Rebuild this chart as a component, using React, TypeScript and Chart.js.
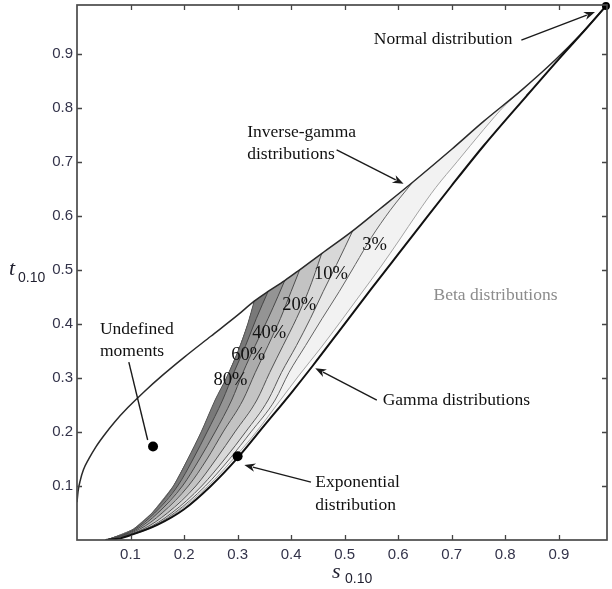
import React, { useEffect, useRef } from "react";
import { Chart, registerables } from "chart.js";

Chart.register(...registerables);

type Pt = { x: number; y: number };
const toPts = (a: number[][]): Pt[] => a.map(([x, y]) => ({ x, y }));

const X_TICKS = [0.1, 0.2, 0.3, 0.4, 0.5, 0.6, 0.7, 0.8, 0.9];
const Y_TICKS = [0.1, 0.2, 0.3, 0.4, 0.5, 0.6, 0.7, 0.8, 0.9];
const AXIS_MAX = 0.99;

// Inverse-gamma boundary (upper curve)
const INVERSE_GAMMA = toPts([
  [0, 0.07], [0.002, 0.09], [0.006, 0.11], [0.012, 0.13], [0.022, 0.15], [0.035, 0.172],
  [0.05, 0.193], [0.07, 0.218], [0.095, 0.245], [0.125, 0.274], [0.16, 0.305], [0.2, 0.338],
  [0.25, 0.377], [0.3, 0.416], [0.331, 0.442], [0.357, 0.46], [0.388, 0.48], [0.416, 0.5],
  [0.457, 0.53], [0.515, 0.572], [0.565, 0.612], [0.627, 0.662], [0.7, 0.723], [0.76, 0.775],
  [0.83, 0.832], [0.894, 0.889], [0.94, 0.935], [0.988, 0.988],
]);

// Gamma boundary (lower curve)
const GAMMA = toPts([
  [0.053, 0], [0.08, 0.003], [0.1, 0.009], [0.15, 0.028], [0.2, 0.057], [0.25, 0.1],
  [0.3, 0.152], [0.35, 0.212], [0.4, 0.272], [0.44, 0.322], [0.5, 0.4], [0.55, 0.465],
  [0.6, 0.529], [0.64, 0.58], [0.7, 0.656], [0.76, 0.73], [0.84, 0.822], [0.9, 0.89],
  [0.95, 0.945], [0.988, 0.988],
]);

// Outer (left) edge of the shaded region
const EDGE = toPts([
  [0.055, 0], [0.105, 0.02], [0.14, 0.05], [0.18, 0.1], [0.207, 0.15], [0.232, 0.2],
  [0.258, 0.259], [0.279, 0.3], [0.301, 0.35], [0.319, 0.4], [0.331, 0.442],
]);

const C80 = toPts([
  [0.055, 0], [0.108, 0.02], [0.145, 0.05], [0.188, 0.1], [0.217, 0.15], [0.243, 0.2],
  [0.272, 0.259], [0.293, 0.31], [0.315, 0.36], [0.335, 0.41], [0.357, 0.46],
]);
const C60 = toPts([
  [0.055, 0], [0.112, 0.02], [0.151, 0.05], [0.197, 0.1], [0.229, 0.15], [0.258, 0.2],
  [0.289, 0.259], [0.31, 0.31], [0.333, 0.36], [0.357, 0.41], [0.375, 0.45], [0.388, 0.48],
]);
const C40 = toPts([
  [0.055, 0], [0.117, 0.02], [0.159, 0.05], [0.208, 0.1], [0.243, 0.15], [0.273, 0.2],
  [0.31, 0.259], [0.333, 0.31], [0.357, 0.36], [0.38, 0.41], [0.4, 0.46], [0.416, 0.5],
]);
const C20 = toPts([
  [0.055, 0], [0.123, 0.02], [0.169, 0.05], [0.222, 0.1], [0.26, 0.15], [0.295, 0.2],
  [0.336, 0.259], [0.36, 0.31], [0.385, 0.36], [0.41, 0.41], [0.432, 0.46], [0.445, 0.495],
  [0.457, 0.53],
]);
const C10 = toPts([
  [0.055, 0], [0.128, 0.02], [0.177, 0.05], [0.233, 0.1], [0.276, 0.15], [0.315, 0.2],
  [0.357, 0.259], [0.382, 0.31], [0.41, 0.36], [0.436, 0.41], [0.46, 0.46], [0.485, 0.51],
  [0.515, 0.572],
]);
const C3 = toPts([
  [0.055, 0], [0.131, 0.02], [0.182, 0.05], [0.24, 0.1], [0.285, 0.15], [0.325, 0.2],
  [0.37, 0.259], [0.396, 0.31], [0.427, 0.36], [0.458, 0.41], [0.49, 0.46], [0.52, 0.51],
  [0.55, 0.56], [0.585, 0.61], [0.627, 0.662],
]);
const C1 = toPts([
  [0.055, 0], [0.133, 0.02], [0.185, 0.05], [0.245, 0.1], [0.292, 0.15], [0.335, 0.2],
  [0.38, 0.259], [0.415, 0.305], [0.455, 0.355], [0.493, 0.405], [0.53, 0.455], [0.567, 0.505],
  [0.602, 0.555], [0.636, 0.605], [0.67, 0.652], [0.71, 0.7], [0.76, 0.76], [0.8, 0.805],
  [0.83, 0.832],
]);

const CONTOURS = [C80, C60, C40, C20, C10, C3, C1];
const CONTOUR_FILLS = ["#797979", "#949494", "#acacac", "#c3c3c3", "#d8d8d8", "#e8e8e8", "#f2f2f2"];
const CONTOUR_LINE_COLORS = ["#464646", "#484848", "#4e4e4e", "#535353", "#585858", "#646464", "#9a9a9a"];

const SPECIAL_POINTS = toPts([[0.142, 0.173], [0.3, 0.155], [0.988, 0.988]]);

type Label = { text: string; x: number; y: number; align: CanvasTextAlign; color: string; base: CanvasTextBaseline; size: number };
const LABELS: Label[] = [
  { text: "Normal distribution", x: 0.5545, y: 0.918, align: "left", color: "#111", base: "alphabetic", size: 17.5 },
  { text: "Inverse-gamma", x: 0.318, y: 0.746, align: "left", color: "#111", base: "alphabetic", size: 17.5 },
  { text: "distributions", x: 0.318, y: 0.705, align: "left", color: "#111", base: "alphabetic", size: 17.5 },
  { text: "Beta distributions", x: 0.666, y: 0.444, align: "left", color: "#8c8c8c", base: "alphabetic", size: 17.5 },
  { text: "Undefined", x: 0.0428, y: 0.381, align: "left", color: "#111", base: "alphabetic", size: 17.5 },
  { text: "moments", x: 0.0428, y: 0.34, align: "left", color: "#111", base: "alphabetic", size: 17.5 },
  { text: "Gamma distributions", x: 0.571, y: 0.25, align: "left", color: "#111", base: "alphabetic", size: 17.5 },
  { text: "Exponential", x: 0.445, y: 0.098, align: "left", color: "#111", base: "alphabetic", size: 17.5 },
  { text: "distribution", x: 0.445, y: 0.0555, align: "left", color: "#111", base: "alphabetic", size: 17.5 },
  { text: "80%", x: 0.2866, y: 0.296, align: "center", color: "#111", base: "middle", size: 18.5 },
  { text: "60%", x: 0.32, y: 0.342, align: "center", color: "#111", base: "middle", size: 18.5 },
  { text: "40%", x: 0.359, y: 0.383, align: "center", color: "#111", base: "middle", size: 18.5 },
  { text: "20%", x: 0.415, y: 0.435, align: "center", color: "#111", base: "middle", size: 18.5 },
  { text: "10%", x: 0.4745, y: 0.492, align: "center", color: "#111", base: "middle", size: 18.5 },
  { text: "3%", x: 0.556, y: 0.546, align: "center", color: "#111", base: "middle", size: 18.5 },
];

type Arrow = { from: [number, number]; to: [number, number]; head: boolean };
const ARROWS: Arrow[] = [
  { from: [0.83, 0.925], to: [0.9676, 0.977], head: true },
  { from: [0.485, 0.722], to: [0.61, 0.659], head: true },
  { from: [0.56, 0.259], to: [0.445, 0.318], head: true },
  { from: [0.437, 0.107], to: [0.3126, 0.139], head: true },
  { from: [0.0968, 0.329], to: [0.132, 0.185], head: false },
];

function regionPolygon(contour: Pt[]): Pt[] {
  const x0 = EDGE[EDGE.length - 1].x;
  const x1 = contour[contour.length - 1].x;
  const mid = INVERSE_GAMMA.filter((p) => p.x > x0 && p.x < x1);
  return [...EDGE, ...mid, ...contour.slice().reverse()];
}

function bandPolygon(): Pt[] {
  const x0 = EDGE[EDGE.length - 1].x;
  const upper = INVERSE_GAMMA.filter((p) => p.x > x0);
  return [...EDGE, ...upper, ...GAMMA.slice().reverse()];
}

const decorPlugin = {
  id: "decor",
  afterDraw(chart: any) {
    const { ctx, chartArea: a, scales } = chart;
    const xs = scales.x;
    const ys = scales.y;
    ctx.save();
    // ticks (inward, mirrored)
    ctx.strokeStyle = "#444";
    ctx.lineWidth = 1.3;
    const tl = 5;
    ctx.beginPath();
    X_TICKS.forEach((v) => {
      const px = Math.round(xs.getPixelForValue(v)) + 0.5;
      ctx.moveTo(px, a.bottom);
      ctx.lineTo(px, a.bottom - tl);
      ctx.moveTo(px, a.top);
      ctx.lineTo(px, a.top + tl);
    });
    Y_TICKS.forEach((v) => {
      const py = Math.round(ys.getPixelForValue(v)) + 0.5;
      ctx.moveTo(a.left, py);
      ctx.lineTo(a.left + tl, py);
      ctx.moveTo(a.right, py);
      ctx.lineTo(a.right - tl, py);
    });
    ctx.stroke();
    // frame
    ctx.strokeStyle = "#4a4a4a";
    ctx.lineWidth = 1.7;
    ctx.strokeRect(a.left, a.top, a.right - a.left, a.bottom - a.top);

    // arrows
    ctx.strokeStyle = "#1a1a1a";
    ctx.fillStyle = "#1a1a1a";
    ctx.lineWidth = 1.4;
    ARROWS.forEach((ar) => {
      const x1 = xs.getPixelForValue(ar.from[0]);
      const y1 = ys.getPixelForValue(ar.from[1]);
      const x2 = xs.getPixelForValue(ar.to[0]);
      const y2 = ys.getPixelForValue(ar.to[1]);
      const ang = Math.atan2(y2 - y1, x2 - x1);
      const hl = 11;
      const hw = 4.2;
      const ex = ar.head ? x2 - Math.cos(ang) * hl * 0.8 : x2;
      const ey = ar.head ? y2 - Math.sin(ang) * hl * 0.8 : y2;
      ctx.beginPath();
      ctx.moveTo(x1, y1);
      ctx.lineTo(ex, ey);
      ctx.stroke();
      if (ar.head) {
        const bx = x2 - Math.cos(ang) * hl;
        const by = y2 - Math.sin(ang) * hl;
        ctx.beginPath();
        ctx.moveTo(x2, y2);
        ctx.lineTo(bx + Math.sin(ang) * hw, by - Math.cos(ang) * hw);
        ctx.lineTo(x2 - Math.cos(ang) * hl * 0.7, y2 - Math.sin(ang) * hl * 0.7);
        ctx.lineTo(bx - Math.sin(ang) * hw, by + Math.cos(ang) * hw);
        ctx.closePath();
        ctx.fill();
      }
    });

    // text labels
    LABELS.forEach((l) => {
      ctx.font = `${l.size}px "Liberation Serif"`;
      ctx.fillStyle = l.color;
      ctx.textAlign = l.align;
      ctx.textBaseline = l.base;
      ctx.fillText(l.text, xs.getPixelForValue(l.x), ys.getPixelForValue(l.y));
    });

    // axis titles with subscripts
    ctx.textAlign = "left";
    ctx.textBaseline = "alphabetic";
    ctx.fillStyle = "#1e1e2e";
    const midX = (a.left + a.right) / 2;
    ctx.font = 'italic 22px "Liberation Serif"';
    ctx.fillText("s", midX - 10, a.bottom + 38);
    ctx.font = '14px "Liberation Sans"';
    ctx.fillText("0.10", midX + 3, a.bottom + 43);
    const midY = (a.top + a.bottom) / 2;
    ctx.font = 'italic 22px "Liberation Serif"';
    ctx.fillText("t", 9, midY + 2);
    ctx.font = '14px "Liberation Sans"';
    ctx.fillText("0.10", 18, midY + 9);
    ctx.restore();
  },
};

export default function App() {
  const ref = useRef<HTMLCanvasElement | null>(null);
  useEffect(() => {
    if (!ref.current) return;
    const datasets: any[] = [];
    datasets.push({
      data: bandPolygon(),
      fill: "shape",
      backgroundColor: "#fbfbfb",
      borderWidth: 0,
      pointRadius: 0,
      order: 100,
    });
    // regions: lightest (largest) first, darkest last
    for (let i = CONTOURS.length - 1; i >= 0; i--) {
      datasets.push({
        data: regionPolygon(CONTOURS[i]),
        fill: "shape",
        backgroundColor: CONTOUR_FILLS[i],
        borderWidth: 0,
        pointRadius: 0,
        order: 50 + i,
      });
    }
    const smooth = { cubicInterpolationMode: "monotone" };
    CONTOURS.forEach((c, i) => {
      datasets.push({
        ...smooth,
        data: c,
        borderColor: CONTOUR_LINE_COLORS[i],
        borderWidth: i === CONTOURS.length - 1 ? 0.9 : 1,
        pointRadius: 0,
        fill: false,
        order: 20,
      });
    });
    datasets.push({ ...smooth, data: EDGE, borderColor: "#555", borderWidth: 1, pointRadius: 0, fill: false, order: 19 });
    datasets.push({ ...smooth, data: INVERSE_GAMMA, borderColor: "#2a2a2a", borderWidth: 1.5, pointRadius: 0, fill: false, order: 10 });
    datasets.push({ ...smooth, data: GAMMA, borderColor: "#111", borderWidth: 2, pointRadius: 0, fill: false, order: 9 });
    datasets.push({
      data: SPECIAL_POINTS,
      showLine: false,
      pointRadius: [5, 5, 4],
      pointBackgroundColor: "#000",
      pointBorderColor: "#000",
      pointBorderWidth: 0,
      order: 1,
      clip: false,
    });

    const tickFont = { family: '"Liberation Sans", Arial, sans-serif', size: 15 };
    const chart = new Chart(ref.current, {
      type: "line",
      data: { datasets },
      options: {
        responsive: false,
        animation: false,
        events: [],
        devicePixelRatio: 1,
        layout: { padding: { top: 5, right: 3, left: 0, bottom: 0 } },
        elements: { line: { tension: 0 } },
        plugins: { legend: { display: false }, tooltip: { enabled: false } },
        scales: {
          x: {
            type: "linear",
            min: 0,
            max: AXIS_MAX,
            grid: { display: false, drawTicks: false },
            border: { display: false },
            ticks: { font: tickFont, color: "#33334a", padding: 6, maxRotation: 0 },
            afterBuildTicks: (s: any) => {
              s.ticks = X_TICKS.map((v) => ({ value: v }));
            },
            afterFit: (s: any) => {
              s.height = 49;
              s.paddingLeft = 0;
              s.paddingRight = 0;
            },
          },
          y: {
            type: "linear",
            min: 0,
            max: AXIS_MAX,
            grid: { display: false, drawTicks: false },
            border: { display: false },
            ticks: { font: tickFont, color: "#33334a", padding: 4 },
            afterBuildTicks: (s: any) => {
              s.ticks = Y_TICKS.map((v) => ({ value: v }));
            },
            afterFit: (s: any) => {
              s.width = 77;
              s.paddingTop = 0;
              s.paddingBottom = 0;
            },
          },
        },
      } as any,
      plugins: [decorPlugin],
    });
    return () => chart.destroy();
  }, []);
  return (
    <div style={{ position: "absolute", left: 0, top: 0, width: 612, height: 589, background: "#fff" }}>
      <canvas ref={ref} width={612} height={589} style={{ display: "block" }} />
    </div>
  );
}
